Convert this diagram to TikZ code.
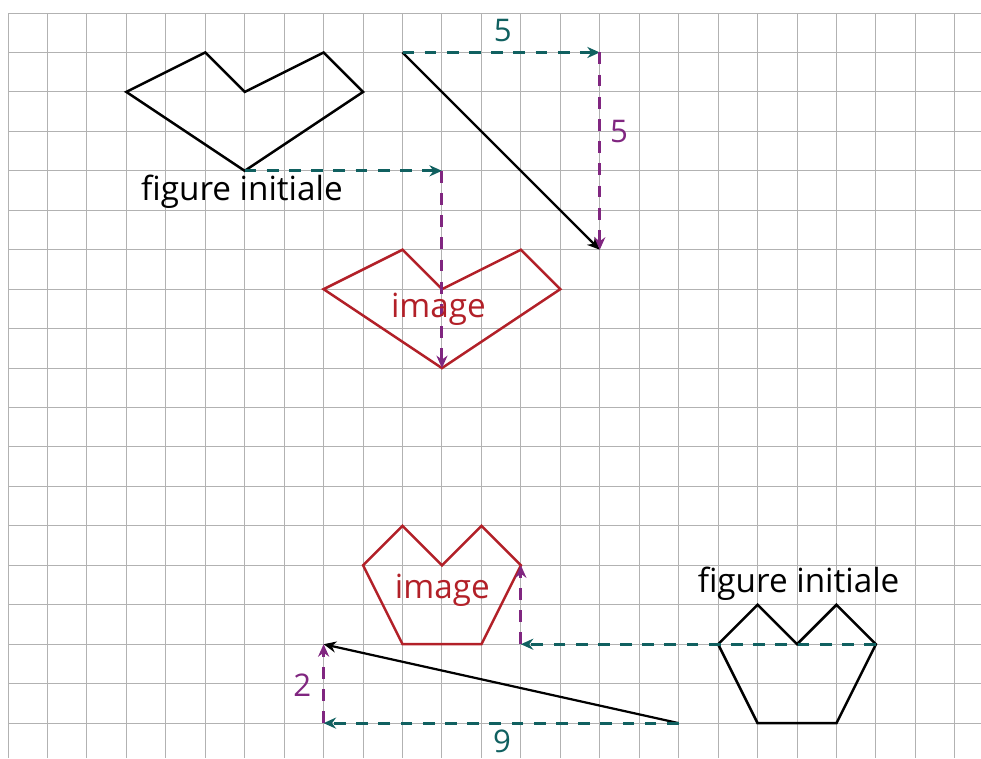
\documentclass[tikz,border=0pt]{standalone}
\usepackage{fontspec}
\setmainfont[Ligatures=NoCommon]{Open Sans}
\usetikzlibrary{arrows.meta}
\definecolor{movteal}{RGB}{16,96,96}
\definecolor{movpurple}{RGB}{128,38,128}
\definecolor{imgred}{RGB}{178,32,40}

\begin{document}
\begin{tikzpicture}[x=1cm, y=-1cm,
    gridline/.style={draw=black!30, line width=0.7pt},
    figline/.style={draw=black, line width=1.8pt},
    imgline/.style={draw=imgred, line width=1.8pt},
    hmove/.style={draw=movteal, line width=2.2pt, dash pattern=on 8.5pt off 7.5pt, -{Stealth[length=9pt,width=8pt]}},
    vmove/.style={draw=movpurple, line width=2.2pt, dash pattern=on 8.5pt off 7.5pt, -{Stealth[length=9pt,width=8pt]}},
    vecline/.style={draw=black, line width=1.6pt, -{Stealth[length=9pt,width=8pt]}},
    lbl/.style={anchor=base, inner sep=0pt, font=\fontsize{24}{24}\selectfont},
    numlbl/.style={anchor=base, inner sep=0pt, font=\fontsize{22.5}{22.5}\selectfont}]
    \useasboundingbox (-0.203,-0.33) rectangle (24.664,18.885);
    \foreach \gx in {0,...,24} \draw[gridline] (\gx,0) -- (\gx,18.885);
    \foreach \gy in {0,...,18} \draw[gridline] (0,\gy) -- (24.664,\gy);

    \coordinate (uStart) at (10,1);
    \coordinate (uCorner) at (15,1);
    \coordinate (uEnd) at (15,6);
    \coordinate (pInit) at (6,4);
    \coordinate (pCorner) at (11,4);
    \coordinate (pImg) at (11,9);
    \coordinate (wStart) at (17,18);
    \coordinate (wCorner) at (8,18);
    \coordinate (wEnd) at (8,16);
    \coordinate (qInit) at (22,16);
    \coordinate (qCorner) at (13,16);
    \coordinate (qImg) at (13,14);

    \draw[figline] (3,2) -- (5,1) -- (6,2) -- (8,1) -- (9,2) -- (pInit) -- cycle;
    \draw[imgline] (8,7) -- (10,6) -- (11,7) -- (13,6) -- (14,7) -- (pImg) -- cycle;
    \draw[figline] (18,16) -- (19,15) -- (20,16) -- (21,15) -- (qInit) -- (21,18) -- (19,18) -- cycle;
    \draw[imgline] (9,14) -- (10,13) -- (11,14) -- (12,13) -- (qImg) -- (12,16) -- (10,16) -- cycle;

    \draw[vecline] (uStart) -- (uEnd);
    \draw[vecline] (wStart) -- (wEnd);
    \draw[hmove] (uStart) -- (uCorner);
    \draw[vmove] (uCorner) -- (uEnd);
    \draw[hmove] (pInit) -- (pCorner);
    \draw[vmove] (pCorner) -- (pImg);
    \draw[hmove] (wStart) -- (wCorner);
    \draw[vmove] (wCorner) -- (wEnd);
    \draw[hmove] (qInit) -- (qCorner);
    \draw[vmove] (qCorner) -- (qImg);

    \node (initTop) [lbl] at (5.93,4.74) {figure initiale};
    \node (imgTop) [lbl, text=imgred] at (10.91,7.73) {image};
    \node (initBot) [lbl] at (20.04,14.70) {figure initiale};
    \node (imgBot) [lbl, text=imgred] at (11.01,14.85) {image};
    \node (uDx) [numlbl, text=movteal] at (12.54,0.73) {5};
    \node (uDy) [numlbl, text=movpurple] at (15.49,3.29) {5};
    \node (wDx) [numlbl, text=movteal] at (12.52,18.74) {9};
    \node (wDy) [numlbl, text=movpurple] at (7.46,17.33) {2};
\end{tikzpicture}
\end{document}
